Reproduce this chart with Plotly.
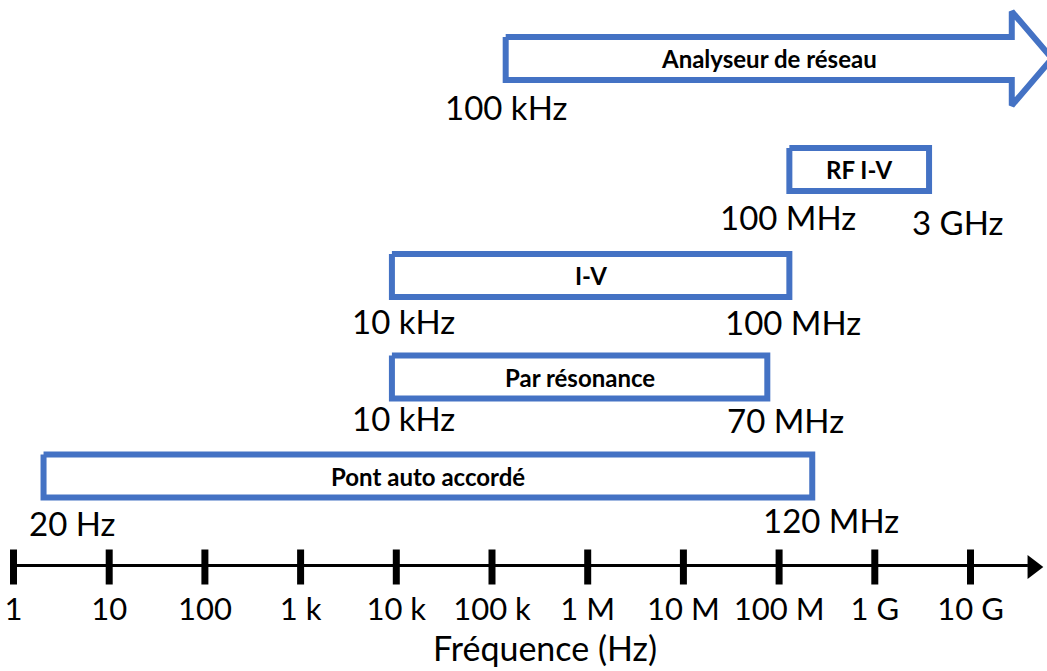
import numpy as np
import plotly.graph_objects as go

# ---------------- data ----------------
methods = ["Analyseur de réseau", "RF I-V", "I-V", "Par résonance", "Pont auto accordé"]
# drawn extents of each band on the frequency axis (Hz)
band_start_hz = [1.39e5, 1.28e8, 9.0e3, 9.0e3, 2.06e0]
band_end_hz = [2.7e10, 3.69e9, 1.28e8, 7.53e7, 2.22e8]
arrow_tip_hz = 7.1e10          # tip of the open-ended arrow (Analyseur de réseau)
start_labels = ["100 kHz", "100 MHz", "10 kHz", "10 kHz", "20 Hz"]
end_labels = ["", "3 GHz", "100 MHz", "70 MHz", "120 MHz"]

tick_hz = [1, 10, 100, 1e3, 1e4, 1e5, 1e6, 1e7, 1e8, 1e9, 1e10]
tick_text = ["1", "10", "100", "1 k", "10 k", "100 k", "1 M", "10 M", "100 M", "1 G", "10 G"]
axis_title = "Fréquence (Hz)"

# ---------------- layout / style ----------------
W, H = 1047, 671
AXIS_PX = 567                         # pixel row of the frequency axis
X0_PX, PX_PER_DEC = 13.5, 95.7        # pixel of 1 Hz, pixels per decade
xrange_log = [(0 - X0_PX) / PX_PER_DEC, (W - X0_PX) / PX_PER_DEC]

row_center = [58.5, 169.5, 275.5, 377, 476]   # vertical placement (px)
half_h = 21.5
head_half_h = 47
# label offsets: (dx start, y start, dx end, y end)
label_pos = [
    (0, 107, 0, 0),
    (-1, 217, 28, 222),
    (12, 321, 4, 322),
    (12, 418, 18, 420),
    (28, 523, 19, 520),
]
BLUE = "#4472C4"
FONT = "Lato, Calibri, Carlito, sans-serif"
LBL = 33

fig = go.Figure()

for i, name in enumerate(methods):
    s, e = band_start_hz[i], band_end_hz[i]
    yc = row_center[i]
    top, bot = yc - half_h, yc + half_h
    if i == 0:
        xs = [s, e, e, arrow_tip_hz, e, e, s, s]
        ys = [top, top, yc - head_half_h, yc, yc + head_half_h, bot, bot, top]
        xshift_name = 10
    else:
        xs = [s, e, e, s, s]
        ys = [top, top, bot, bot, top]
        xshift_name = 0
    xc_log = (np.log10(s) + np.log10(e)) / 2
    fig.add_trace(go.Scatter(x=xs, y=ys, mode="lines",
                             line=dict(color=BLUE, width=6),
                             hoverinfo="skip", showlegend=False))
    fig.add_annotation(x=xc_log, y=yc, xref="x", yref="y", text=f"<b>{name}</b>",
                       showarrow=False, xshift=xshift_name,
                       font=dict(family=FONT, size=24, color="black"))
    dxs, ys_, dxe, ye = label_pos[i]
    if start_labels[i]:
        fig.add_annotation(x=np.log10(s), y=ys_, xref="x", yref="y", text=start_labels[i],
                           showarrow=False, xshift=dxs,
                           font=dict(family=FONT, size=LBL, color="black"))
    if end_labels[i]:
        fig.add_annotation(x=np.log10(e), y=ye, xref="x", yref="y", text=end_labels[i],
                           showarrow=False, xshift=dxe,
                           font=dict(family=FONT, size=LBL, color="black"))

# frequency axis: line, tick marks and arrow head
line_end = 10 ** 10.6
fig.add_trace(go.Scatter(x=[tick_hz[0], line_end], y=[AXIS_PX, AXIS_PX], mode="lines",
                         line=dict(color="black", width=6), cliponaxis=False,
                         hoverinfo="skip", showlegend=False))
fig.add_trace(go.Scatter(x=tick_hz, y=[AXIS_PX] * len(tick_hz), mode="markers",
                         marker=dict(symbol="line-ns", size=25,
                                     line=dict(color="black", width=7)),
                         cliponaxis=False, hoverinfo="skip", showlegend=False))
fig.add_trace(go.Scatter(x=[10 ** 10.651], y=[AXIS_PX], mode="markers",
                         marker=dict(symbol="triangle-right", size=21, color="black"),
                         cliponaxis=False, hoverinfo="skip", showlegend=False))

fig.add_annotation(x=545 / W, y=(AXIS_PX - 647) / AXIS_PX, xref="paper", yref="paper",
                   text=axis_title, showarrow=False, yanchor="middle",
                   font=dict(family=FONT, size=34, color="black"))

fig.update_xaxes(type="log", range=xrange_log, showgrid=False, zeroline=False,
                 showline=False, ticks="", tickvals=tick_hz, ticktext=tick_text,
                 tickfont=dict(family=FONT, size=31, color="black"),
                 ticklabelstandoff=21)
fig.update_yaxes(range=[AXIS_PX, 0], visible=False, showgrid=False, zeroline=False)

fig.update_layout(width=W, height=H, margin=dict(l=0, r=0, t=0, b=H - AXIS_PX),
                  plot_bgcolor="white", paper_bgcolor="white", showlegend=False)

fig.write_html("out.html", config={"displayModeBar": False},
               post_script="document.body.style.margin='0';document.body.style.overflow='hidden';")
